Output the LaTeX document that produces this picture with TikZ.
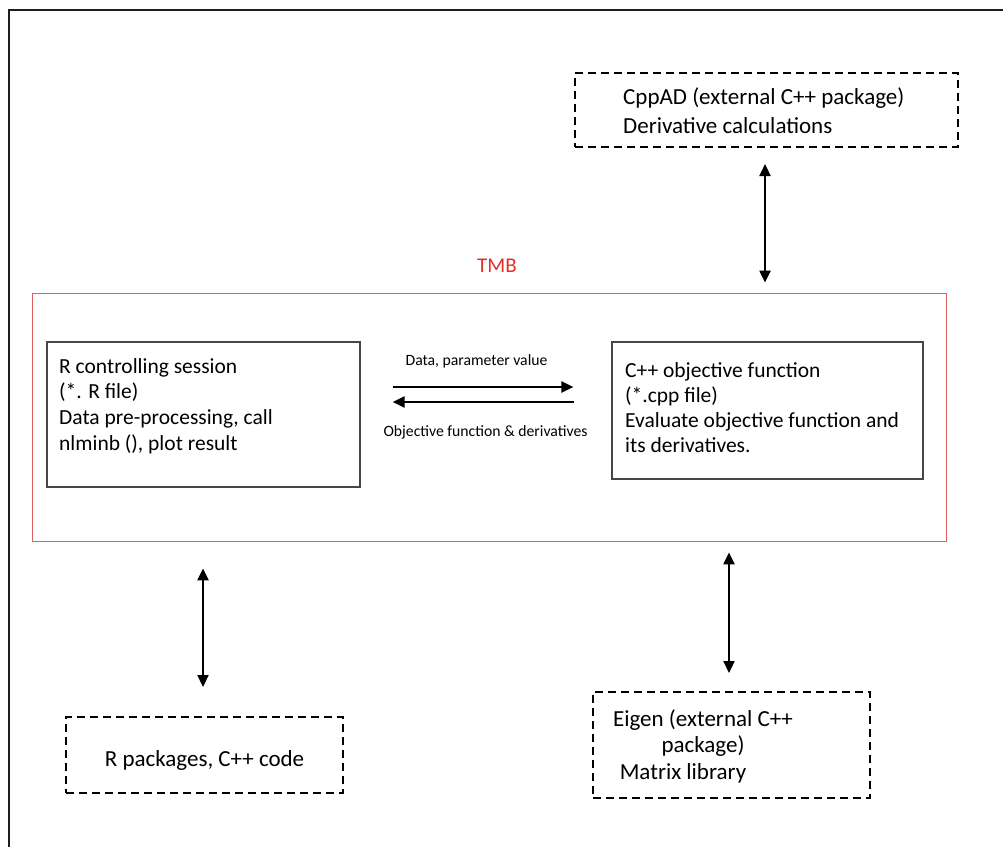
\documentclass[tikz,border=0pt]{standalone}
\usepackage{fontspec}
\setmainfont{Carlito}
\usetikzlibrary{arrows.meta}
\definecolor{tmbred}{RGB}{226,48,38}
\definecolor{boxred}{RGB}{222,95,95}
\definecolor{boxgray}{RGB}{70,70,70}
\definecolor{framecol}{RGB}{30,30,30}
\begin{document}
\begin{tikzpicture}[x=1pt,y=-1pt,
  solidbox/.style={draw=boxgray,line width=1.2pt,inner sep=0pt},
  dashbox/.style={draw=black,line width=2pt,dash pattern=on 8pt off 5pt,inner sep=0pt},
  redbox/.style={draw=boxred,line width=0.8pt,inner sep=0pt},
  arr/.style={line width=2.2pt,-{Triangle[length=12pt,width=11pt]}},
  darr/.style={line width=2.2pt,{Triangle[length=12pt,width=11pt]}-{Triangle[length=12pt,width=11pt]}},
  bigtxt/.style={inner sep=0pt,font=\fontsize{23}{29}\selectfont},
  midtxt/.style={inner sep=0pt,font=\fontsize{21.5}{25.7}\selectfont},
  smalltxt/.style={inner sep=0pt,font=\fontsize{15.7}{19}\selectfont}]
\useasboundingbox (0,0) rectangle (1003,846);
\fill[white] (0,0) rectangle (1003,846);
\draw[line width=2.5pt,framecol] (9,850) -- (9,10) -- (1010,10);

% boxes
\node[redbox,minimum width=914pt,minimum height=248pt] (tmb) at (489,417) {};
\node[solidbox,minimum width=313pt,minimum height=145pt] (R) at (203.5,414.5) {};
\node[solidbox,minimum width=311pt,minimum height=137pt] (C) at (767.5,410.5) {};
\node[dashbox,minimum width=383pt,minimum height=74pt] (cpp) at (766.5,110) {};
\node[dashbox,minimum width=277pt,minimum height=76pt] (rpkg) at (204.5,755) {};
\node[dashbox,minimum width=277pt,minimum height=106pt] (eig) at (731.5,745) {};

% texts
\node[inner sep=0pt,anchor=base,text=tmbred,font=\fontsize{21}{25}\selectfont] (tmblabel) at (497,272) {TMB};
\node[bigtxt,anchor=base west] (cpptxt) at (623,104)
  {\begin{tabular}[t]{@{}l@{}}CppAD (external C++ package)\\Derivative calculations\end{tabular}};
\node[midtxt,anchor=base west] (Rtxt) at (59,373)
  {\begin{tabular}[t]{@{}l@{}}R controlling session\\(*. R file)\\Data pre-processing, call\\nlminb (), plot result\end{tabular}};
\node[midtxt,anchor=base west,font=\fontsize{21.5}{25}\selectfont] (Ctxt) at (625,377)
  {\begin{tabular}[t]{@{}l@{}}C++ objective function\\(*.cpp file)\\Evaluate objective function and\\its derivatives.\end{tabular}};
\node[bigtxt,anchor=base] (rpkgtxt) at (204.5,766) {R packages, C++ code};
\node[bigtxt,anchor=base,font=\fontsize{23}{26.5}\selectfont] (eigtxt) at (703,726)
  {\begin{tabular}[t]{@{}c@{}}Eigen (external C++\\package)\\\hspace*{-40pt}Matrix library\end{tabular}};
\node[smalltxt,anchor=base] (lab1) at (476.5,365) {Data, parameter value};
\node[smalltxt,anchor=base] (lab2) at (485.5,436) {Objective function \& derivatives};

% connectors
\coordinate (y1) at (0,387);
\coordinate (y2) at (0,402);
\coordinate (x1) at (765,0);
\coordinate (x2) at (203,0);
\coordinate (x3) at (729,0);
\draw[arr,shorten <=32pt,shorten >=38pt] (R.east |- y1) -- (C.west |- y1);
\draw[arr,shorten <=37pt,shorten >=32pt] (C.west |- y2) -- (R.east |- y2);
\draw[darr,shorten <=16pt,shorten >=10pt] (cpp.south -| x1) -- (tmb.north -| x1);
\draw[darr,shorten <=27pt,shorten >=29pt] (tmb.south -| x2) -- (rpkg.north -| x2);
\draw[darr,shorten <=11pt,shorten >=18pt] (tmb.south -| x3) -- (eig.north -| x3);
\end{tikzpicture}
\end{document}
